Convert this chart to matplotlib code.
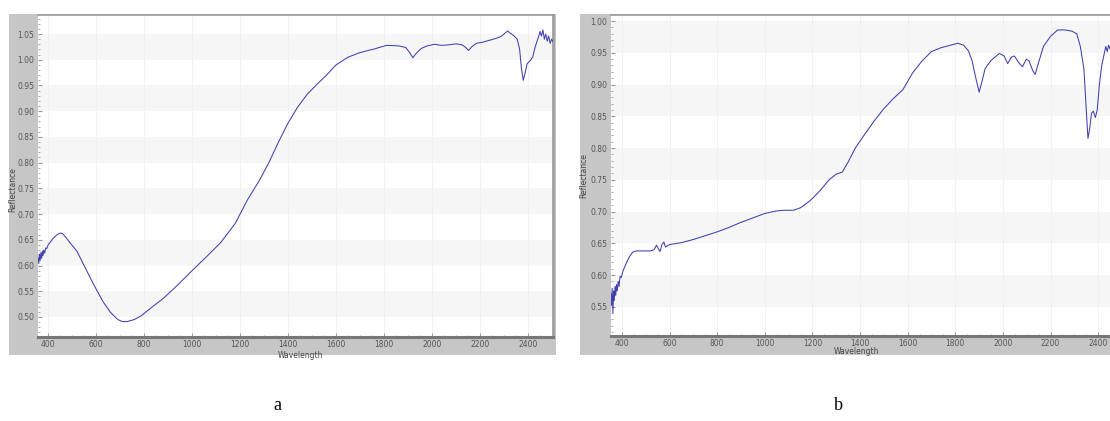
import matplotlib
matplotlib.use("Agg")
import matplotlib.pyplot as plt
from matplotlib.ticker import MultipleLocator

# spectrum a
wl_a = [355, 358, 361, 364, 367, 370, 373, 376, 379, 382, 386, 390, 395, 400, 410, 420, 435,
        450, 460, 470, 490, 520, 550, 590, 630, 660, 690, 710, 730, 760, 790, 830, 880, 940,
        1000, 1060, 1120, 1180, 1230, 1280, 1320, 1360, 1400, 1440, 1480, 1520, 1560, 1600,
        1650, 1700, 1760, 1810, 1860, 1890, 1905, 1920, 1935, 1955, 1980, 2010, 2040, 2070,
        2100, 2125, 2140, 2152, 2165, 2185, 2210, 2240, 2270, 2290, 2305, 2315, 2325, 2340,
        2355, 2365, 2372, 2380, 2388, 2396, 2404, 2412, 2420, 2428, 2436, 2444, 2450, 2456,
        2462, 2468, 2474, 2480, 2486, 2492, 2498, 2505]
refl_a = [0.600, 0.615, 0.604, 0.622, 0.610, 0.625, 0.614, 0.628, 0.619, 0.630, 0.624, 0.634,
          0.633, 0.640, 0.646, 0.652, 0.659, 0.663, 0.662, 0.657, 0.645, 0.628, 0.600, 0.563,
          0.529, 0.509, 0.495, 0.491, 0.491, 0.495, 0.503, 0.518, 0.536, 0.562, 0.590, 0.617,
          0.645, 0.682, 0.727, 0.765, 0.800, 0.840, 0.877, 0.908, 0.933, 0.952, 0.970, 0.990,
          1.005, 1.014, 1.021, 1.028, 1.027, 1.024, 1.015, 1.004, 1.013, 1.022, 1.027, 1.030,
          1.028, 1.029, 1.031, 1.029, 1.024, 1.018, 1.025, 1.032, 1.034, 1.038, 1.042, 1.046,
          1.052, 1.056, 1.052, 1.047, 1.040, 1.020, 0.985, 0.960, 0.975, 0.992, 0.996, 1.000,
          1.006, 1.022, 1.034, 1.045, 1.055, 1.046, 1.058, 1.040, 1.050, 1.036, 1.046, 1.032,
          1.040, 1.034]

# spectrum b
wl_b = [350, 353, 356, 359, 362, 365, 368, 371, 374, 377, 380, 384, 388, 392, 397, 405, 415,
        430, 445, 460, 490, 520, 535, 545, 552, 560, 568, 576, 583, 590, 600, 650, 700, 750,
        800, 850, 900, 950, 1000, 1050, 1080, 1120, 1150, 1190, 1230, 1270, 1300, 1325, 1350,
        1380, 1420, 1460, 1500, 1540, 1580, 1620, 1660, 1700, 1740, 1780, 1810, 1835, 1855,
        1870, 1885, 1900, 1912, 1925, 1950, 1985, 2005, 2020, 2035, 2048, 2065, 2082, 2098,
        2110, 2125, 2135, 2150, 2170, 2200, 2230, 2260, 2290, 2310, 2325, 2340, 2350, 2357,
        2364, 2372, 2380, 2388, 2396, 2405, 2415, 2425, 2432, 2438, 2444, 2450, 2458, 2466,
        2475, 2485, 2495, 2505]
refl_b = [0.545, 0.572, 0.552, 0.578, 0.540, 0.575, 0.560, 0.582, 0.568, 0.585, 0.575, 0.590,
          0.582, 0.598, 0.596, 0.607, 0.616, 0.628, 0.636, 0.638, 0.638, 0.638, 0.640, 0.647,
          0.642, 0.637, 0.648, 0.652, 0.644, 0.646, 0.648, 0.651, 0.656, 0.662, 0.668, 0.675,
          0.683, 0.690, 0.697, 0.701, 0.702, 0.702, 0.706, 0.717, 0.732, 0.750, 0.759, 0.762,
          0.778, 0.800, 0.822, 0.843, 0.862, 0.878, 0.892, 0.918, 0.937, 0.952, 0.958, 0.962,
          0.965, 0.962, 0.953, 0.938, 0.912, 0.888, 0.905, 0.925, 0.938, 0.949, 0.945, 0.933,
          0.943, 0.945, 0.935, 0.928, 0.940, 0.937, 0.922, 0.916, 0.935, 0.960, 0.976, 0.986,
          0.986, 0.984, 0.980, 0.960, 0.925, 0.860, 0.815, 0.830, 0.855, 0.858, 0.848, 0.860,
          0.900, 0.930, 0.948, 0.960, 0.952, 0.962, 0.956, 0.960, 0.950, 0.958, 0.950, 0.955,
          0.950]

W, H = 1110, 421
LINE = "#3f3fae"
FRAME = "#c6c6c6"


def rect(x0, y0, x1, y1):
    # pixel box (top-left origin) -> figure fraction
    return [x0 / W, (H - y1) / H, (x1 - x0) / W, (y1 - y0) / H]


def panel(fig, frame_box, plot_box, wl, refl, xlim, ylim, yticks, bands, right_edge=True):
    fr = fig.add_axes(rect(*frame_box))
    fr.set_facecolor(FRAME)
    fr.set_xticks([])
    fr.set_yticks([])
    for s in fr.spines.values():
        s.set_visible(False)

    ax = fig.add_axes(rect(*plot_box))
    ax.set_facecolor("white")
    for lo in bands:
        ax.axhspan(lo, lo + 0.05, color="#f6f6f6", lw=0, zorder=0)
    for gx in range(400, 2600, 200):
        ax.axvline(gx, color="#f0f0f0", lw=0.6, zorder=0.5)

    ax.plot(wl, refl, color=LINE, lw=0.75, zorder=3)
    ax.set_xlim(*xlim)
    ax.set_ylim(*ylim)
    ax.set_yticks(yticks)
    ax.set_yticklabels([f"{v:.2f}" for v in yticks])
    ax.xaxis.set_major_locator(MultipleLocator(200))
    ax.xaxis.set_minor_locator(MultipleLocator(50))
    ax.yaxis.set_minor_locator(MultipleLocator(0.01))
    ax.tick_params(which="both", direction="in", colors="#999999", labelcolor="#555555",
                   labelsize=5.5, top=False, right=False)
    ax.tick_params(which="major", length=3, pad=2.5)
    ax.tick_params(which="minor", length=1.5)

    ax.spines["left"].set_visible(False)
    ax.spines["bottom"].set_color("#777777")
    ax.spines["bottom"].set_linewidth(2.2)
    ax.spines["top"].set_color("#999999")
    ax.spines["top"].set_linewidth(1.2)
    ax.spines["right"].set_color("#a0a0a0")
    ax.spines["right"].set_linewidth(2.0)
    ax.spines["right"].set_visible(right_edge)
    return ax


fig = plt.figure(figsize=(W / 100, H / 100), dpi=100)
fig.patch.set_facecolor("white")

panel(fig, (9, 14, 556, 355), (38, 15, 553, 337), wl_a, refl_a,
      (358, 2504), (0.461, 1.087),
      [0.50, 0.55, 0.60, 0.65, 0.70, 0.75, 0.80, 0.85, 0.90, 0.95, 1.00, 1.05],
      [0.50, 0.60, 0.70, 0.80, 0.90, 1.00])
fig.text(13 / W, 1 - 190 / H, "Reflectance", rotation=90, fontsize=5.5, color="#444444",
         ha="center", va="center")
fig.text(300 / W, 1 - 356 / H, "Wavelength", fontsize=5.5, color="#444444",
         ha="center", va="center")

panel(fig, (580, 14, 1130, 355), (611, 15, 1122, 336), wl_b, refl_b,
      (354, 2500), (0.504, 1.0095),
      [0.55, 0.60, 0.65, 0.70, 0.75, 0.80, 0.85, 0.90, 0.95, 1.00],
      [0.55, 0.65, 0.75, 0.85, 0.95], right_edge=False)
fig.text(584 / W, 1 - 176 / H, "Reflectance", rotation=90, fontsize=5.5, color="#444444",
         ha="center", va="center")
fig.text(857 / W, 1 - 351 / H, "Wavelength", fontsize=5.5, color="#444444",
         ha="center", va="center")

fig.text(277 / W, 1 - 405 / H, "a", fontsize=13, family="Liberation Serif",
         ha="center", va="center")
fig.text(838 / W, 1 - 405 / H, "b", fontsize=13, family="Liberation Serif",
         ha="center", va="center")

fig.savefig("out.png", dpi=100)
